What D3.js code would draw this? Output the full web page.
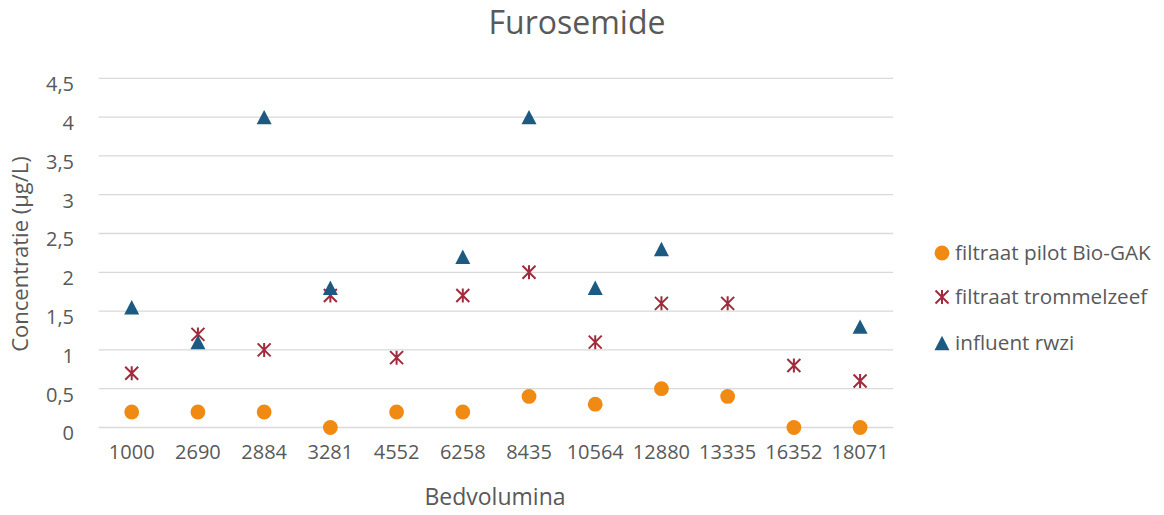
<!DOCTYPE html>
<html>
<head>
<meta charset="utf-8">
<script src="https://cdn.jsdelivr.net/npm/d3@7"></script>
<style>
  html, body { margin: 0; padding: 0; background: #ffffff; }
  svg { display: block; }
  text { font-family: "Open Sans", Lato, sans-serif; fill: #595959; }
</style>
</head>
<body>
<svg id="chart" width="1164" height="515"></svg>
<script>
// Bedvolumina (x categories)
const categories = ["1000", "2690", "2884", "3281", "4552", "6258", "8435", "10564", "12880", "13335", "16352", "18071"];

// Furosemide concentrations (µg/L); null = not measured
const pilotBioGAK   = [0.2, 0.2, 0.2, 0, 0.2, 0.2, 0.4, 0.3, 0.5, 0.4, 0, 0];
const trommelzeef   = [0.7, 1.2, 1.0, 1.7, 0.9, 1.7, 2.0, 1.1, 1.6, 1.6, 0.8, 0.6];
const influentRwzi  = [1.55, 1.1, 4.0, 1.8, null, 2.2, 4.0, 1.8, 2.3, null, null, 1.3];

const yTicks = [0, 0.5, 1, 1.5, 2, 2.5, 3, 3.5, 4, 4.5];

const seriesNames = ["filtraat pilot Bìo-GAK", "filtraat trommelzeef", "influent rwzi"];

const COLORS = { circle: "#F18A12", star: "#A12B3C", triangle: "#1C5A82" };

const svg = d3.select("#chart");

const plot = { left: 98.6, right: 893.2, top: 78.3, bottom: 427.5 };

const x = d3.scaleBand().domain(categories).range([plot.left, plot.right]).padding(0);
const y = d3.scaleLinear().domain([0, 4.5]).range([plot.bottom, plot.top]);
const cx = c => x(c) + x.bandwidth() / 2;

// Title
svg.append("text")
  .attr("x", 577).attr("y", 34)
  .attr("text-anchor", "middle")
  .style("font-size", "32px")
  .text("Furosemide");

// Gridlines
svg.append("g").selectAll("line").data(yTicks).join("line")
  .attr("x1", plot.left).attr("x2", plot.right)
  .attr("y1", d => y(d)).attr("y2", d => y(d))
  .attr("stroke", "#D9D9D9").attr("stroke-width", 1.3);

// Y axis labels
const fmt = d => String(d).replace(".", ",");
const yAxis = d3.axisLeft(y).tickValues(yTicks).tickFormat(fmt).tickSize(0).tickPadding(0);
const gy = svg.append("g").attr("transform", "translate(74,6)").call(yAxis);
gy.select(".domain").remove();
gy.selectAll("text").style("font-size", "20px").style("font-family", "'Open Sans', sans-serif").attr("fill", "#595959");

// X axis labels
const xAxis = d3.axisBottom(x).tickSize(0).tickPadding(0);
const gx = svg.append("g").attr("transform", "translate(0,445)").call(xAxis);
gx.select(".domain").remove();
gx.selectAll("text").style("font-size", "20px").style("font-family", "'Open Sans', sans-serif").attr("fill", "#595959");

// Axis titles
svg.append("text")
  .attr("x", 495).attr("y", 505)
  .attr("text-anchor", "middle")
  .style("font-size", "23px")
  .text("Bedvolumina");

svg.append("text")
  .attr("transform", "translate(28,254) rotate(-90)")
  .attr("text-anchor", "middle")
  .style("font-size", "22px")
  .text("Concentratie (µg/L)");

// Marker drawers
function drawCircle(g, px, py) {
  g.append("circle").attr("cx", px).attr("cy", py).attr("r", 7.4).attr("fill", COLORS.circle);
}
function drawStar(g, px, py) {
  const s = 6.5;
  const path = `M${px - s},${py - s}L${px + s},${py + s}M${px - s},${py + s}L${px + s},${py - s}M${px},${py - s - 0.5}L${px},${py + s + 0.5}`;
  g.append("path").attr("d", path).attr("stroke", COLORS.star).attr("stroke-width", 2).attr("fill", "none");
}
function drawTriangle(g, px, py) {
  const w = 7.5, h = 7.2;
  g.append("path")
    .attr("d", `M${px},${py - h}L${px + w},${py + h}L${px - w},${py + h}Z`)
    .attr("fill", COLORS.triangle);
}

const marks = svg.append("g");
// Series drawn in order: pilot, trommelzeef, influent (triangles on top)
categories.forEach((c, i) => { if (pilotBioGAK[i] != null) drawCircle(marks, cx(c), y(pilotBioGAK[i])); });
categories.forEach((c, i) => { if (trommelzeef[i] != null) drawStar(marks, cx(c), y(trommelzeef[i])); });
categories.forEach((c, i) => { if (influentRwzi[i] != null) drawTriangle(marks, cx(c), y(influentRwzi[i])); });

// Legend
const legend = svg.append("g");
const drawers = [drawCircle, drawStar, drawTriangle];
const legendY = [253, 297, 343];
seriesNames.forEach((name, i) => {
  drawers[i](legend, 942, legendY[i]);
  legend.append("text")
    .attr("x", 955).attr("y", legendY[i] + 7)
    .style("font-size", "20.7px")
    .text(name);
});
</script>
</body>
</html>
